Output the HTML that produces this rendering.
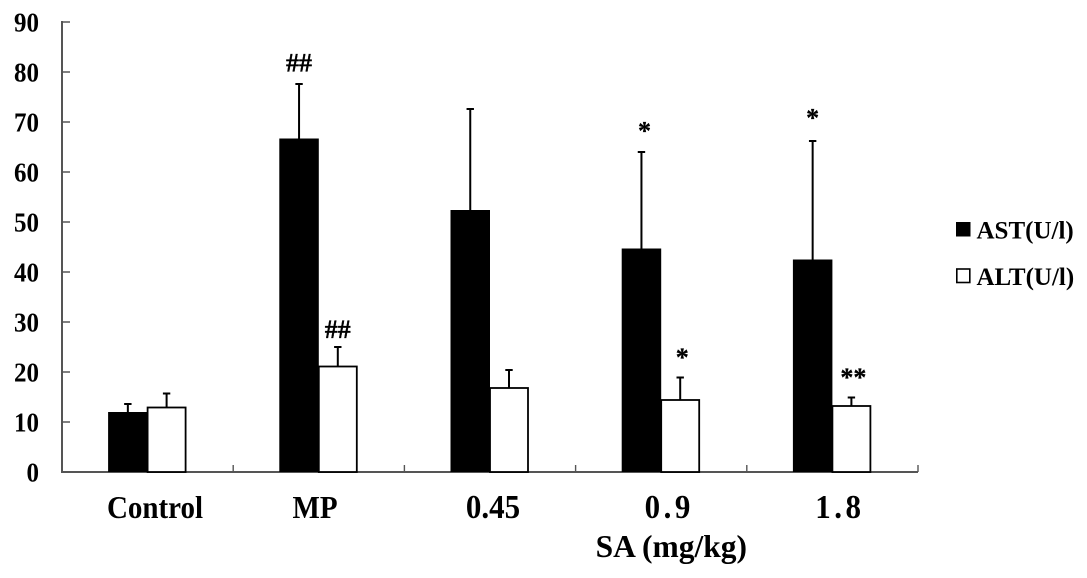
<!DOCTYPE html>
<html>
<head>
<meta charset="utf-8">
<style>
html,body{margin:0;padding:0;background:#fff;width:1087px;height:578px;overflow:hidden}
svg{display:block}
text{font-family:"Liberation Serif",serif;font-weight:bold;fill:#000}
</style>
</head>
<body>
<svg id="chart" width="1087" height="578" viewBox="0 0 1087 578" xmlns="http://www.w3.org/2000/svg"></svg>
<script>
const categories = ["Control", "MP", "0.45", "0.9", "1.8"];
const yTicks = [0, 10, 20, 30, 40, 50, 60, 70, 80, 90];
const astValues = [12, 66.7, 52.4, 44.7, 42.5];
const astErrors = [1.6, 10.9, 20.2, 19.3, 23.7];
const altValues = [12.9, 21.1, 16.8, 14.4, 13.2];
const altErrors = [2.8, 3.9, 3.6, 4.5, 1.7];
const astMarks = ["", "##", "", "*", "*"];
const altMarks = ["", "##", "", "*", "**"];

const svg = document.getElementById('chart');
const NS = 'http://www.w3.org/2000/svg';
const x0 = 62, xW = 856, yBase = 472, yTop = 22;
const groupW = xW / categories.length;
const astW = 39.5, altW = 38;
const axisColor = '#555';
const yOf = v => yBase - (v / 90) * (yBase - yTop);
const centerOf = i => x0 + groupW * (i + 0.5);

/* hand-placed label layout quirks of the original figure */
const labelLayout = {
  'Control': { shift: 7.4, spacing: 0, size: 29 },
  'MP': { shift: -3.8, spacing: 0, size: 29 },
  '0.45': { shift: 3, spacing: 0, size: 31 },
  '0.9': { shift: 8, spacing: 3.5, size: 31 },
  '1.8': { shift: 7.5, spacing: 3.5, size: 31 }
};

function add(tag, attrs, text) {
  const el = document.createElementNS(NS, tag);
  for (const k in attrs) el.setAttribute(k, attrs[k]);
  if (text !== undefined) el.textContent = text;
  svg.appendChild(el);
  return el;
}
function line(x1, y1, x2, y2, w, color) {
  return add('line', { x1, y1, x2, y2, stroke: color || '#000', 'stroke-width': w || 1.5 });
}

let el;
el = line(x0, yTop - 1, x0, yBase + 1, 2, axisColor);


el = line(x0, yBase, x0 + xW, yBase, 2, axisColor);



yTicks.forEach(t => {
  const y = yOf(t);
  el = line(x0, y, x0 + 8, y, 1.5, axisColor);
  
  
  el = add('text', { transform: 'translate(39,' + (y + 9.5) + ') scale(1,1.08)', 'font-size': 25, 'text-anchor': 'end' }, String(t));
  
  
});

for (let i = 1; i <= categories.length; i++) {
  const x = x0 + groupW * i;
  el = line(x, yBase, x, yBase - 7, 1.4, axisColor);
  
  
}

function errorBar(x, v, e, name) {
  el = line(x, yOf(v), x, yOf(v + e), 2);
  
  
  el = line(x - 3.7, yOf(v + e), x + 3.7, yOf(v + e), 2);
  
  
}

categories.forEach((c, i) => {
  const cx = centerOf(i);
  const astX = cx - astW, altX = cx;
  const astC = astX + astW / 2, altC = altX + altW / 2;

  errorBar(astC, astValues[i], astErrors[i], 'ast');
  el = add('rect', { x: astX, y: yOf(astValues[i]), width: astW, height: yBase - yOf(astValues[i]), fill: '#000' });
  
  

  errorBar(altC, altValues[i], altErrors[i], 'alt');
  el = add('rect', { x: altX, y: yOf(altValues[i]), width: altW, height: yBase - yOf(altValues[i]), fill: '#fff', stroke: '#000', 'stroke-width': 1.8 });
  
  

  if (astMarks[i]) {
    const shift = astMarks[i] === '*' && c === '0.9' ? 3 : 0;
    const gap = c === '1.8' ? 14.5 : 12.5;
    el = add('text', { x: astC + shift, y: yOf(astValues[i] + astErrors[i]) - gap, 'font-size': 26, 'text-anchor': 'middle', stroke: '#000', 'stroke-width': 0.3 }, astMarks[i]);
    
    
  }
  if (altMarks[i]) {
    const gap = altMarks[i] === '##' ? 9 : 11.5;
    const shift = altMarks[i] === '##' ? 0 : 2;
    el = add('text', { x: altC + shift, y: yOf(altValues[i] + altErrors[i]) - gap, 'font-size': 26, 'text-anchor': 'middle', stroke: '#000', 'stroke-width': 0.3 }, altMarks[i]);
    
    
  }

  const layout = labelLayout[c] || { shift: 0, spacing: 0, size: 29 };
  el = add('text', { transform: 'translate(' + (cx + layout.shift) + ',518) scale(1,1.08)', 'font-size': layout.size, 'text-anchor': 'middle', 'letter-spacing': layout.spacing }, c);
  
  
});

el = add('text', { x: 671.3, y: 557, 'font-size': 31.5, 'text-anchor': 'middle' }, 'SA (mg/kg)');



el = add('rect', { x: 956, y: 222, width: 14.5, height: 14.5, fill: '#000' });


el = add('text', { x: 976.5, y: 238.5, 'font-size': 25 }, 'AST(U/l)');


el = add('rect', { x: 956.8, y: 269, width: 13, height: 13.5, fill: '#fff', stroke: '#000', 'stroke-width': 1.6 });


el = add('text', { x: 976.5, y: 285, 'font-size': 25 }, 'ALT(U/l)');


</script>
</body>
</html>
